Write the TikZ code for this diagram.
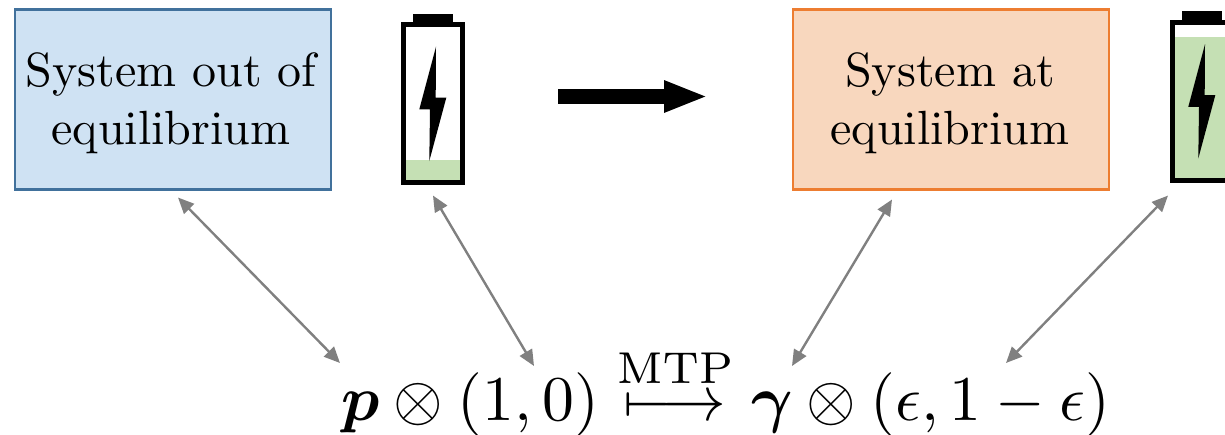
\documentclass[tikz,border=0pt]{standalone}
\usepackage{amsmath}
\usepackage{amssymb}
\usetikzlibrary{arrows.meta}
\definecolor{outblue}{RGB}{207,226,243}
\definecolor{outedge}{RGB}{65,113,156}
\definecolor{atfill}{RGB}{248,215,190}
\definecolor{atedge}{RGB}{237,125,49}
\definecolor{charge}{RGB}{197,224,180}
\tikzset{
  sysbox/.style={draw,line width=1.9pt,inner sep=0pt,outer sep=0pt,
    minimum width=237pt,minimum height=135pt},
  systext/.style={inner sep=0pt,align=center,scale=3.6},
  battbody/.style={draw,line width=3.75pt,inner sep=0pt,outer sep=0pt,
    minimum width=43.8pt,minimum height=118.3pt},
  link/.style={gray,line width=1.8pt,{Triangle[length=12pt,width=10.5pt]}-{Triangle[length=12pt,width=10.5pt]}}
}

\begin{document}
\begin{tikzpicture}[x=0.75pt,y=0.75pt,yscale=-1,xscale=1]
\useasboundingbox (0,0) rectangle (1225,435);

% Boxes
\node [sysbox,fill=outblue,draw=outedge] (outbox) at (173,99.5) {};
\node [sysbox,fill=atfill,draw=atedge] (atbox) at (951,99.5) {};
\node [systext] (outtext) at (171,103.5) {System out of\\equilibrium};
\node [systext] (attext) at (950,103.5) {System at\\equilibrium};

% Batteries
\foreach \batt/\bx/\by/\level in {lowbatt/0/0/160,fullbatt/769/-2.5/39.2}{
  \begin{scope}[shift={(\bx,\by)}]
    \fill [charge] (406,\level) rectangle (460,180);
    \node [battbody] (\batt) at (433,103.7) {};
    \fill (413.3,14) rectangle (452.7,23);
    \fill (436,46.7) -- (419.3,109.3) -- (430,109.3) -- (429.3,161) -- (446.3,97.7) -- (435.7,97.7) -- cycle;
  \end{scope}
}

% Big arrow
\coordinate (arrowstart) at (558,96.5);
\coordinate (arrowend) at (708,96.5);
\draw [line width=11.25pt,-{Triangle[length=33pt,width=21.75pt]}] (arrowstart) -- (arrowend);

% Text Node
\node [anchor=base west,inner sep=0pt,scale=4.78] (state) at (340,420)
  {$\boldsymbol{p}\otimes(1,0)\overset{\mathrm{MTP}}{\longmapsto}\boldsymbol{\gamma}\otimes(\epsilon,1-\epsilon)$};

% Double arrows
\coordinate (outtip) at ([shift={(5,8)}]outbox.south);
\coordinate (lowtip) at ([shift={(0,13)}]lowbatt.south);
\coordinate (attip) at ([shift={(-59,10)}]atbox.south);
\coordinate (fulltip) at ([shift={(-34,15.5)}]fullbatt.south);
\coordinate (pend) at ([shift={(0,-57)}]state.base west);
\coordinate (oneend) at ([shift={(194,-54)}]state.base west);
\coordinate (gammaend) at ([shift={(452,-54)}]state.base west);
\coordinate (epsend) at ([shift={(666,-57)}]state.base west);
\draw [link] (outtip) -- (pend);
\draw [link] (lowtip) -- (oneend);
\draw [link] (attip) -- (gammaend);
\draw [link] (fulltip) -- (epsend);
\end{tikzpicture}
\end{document}
